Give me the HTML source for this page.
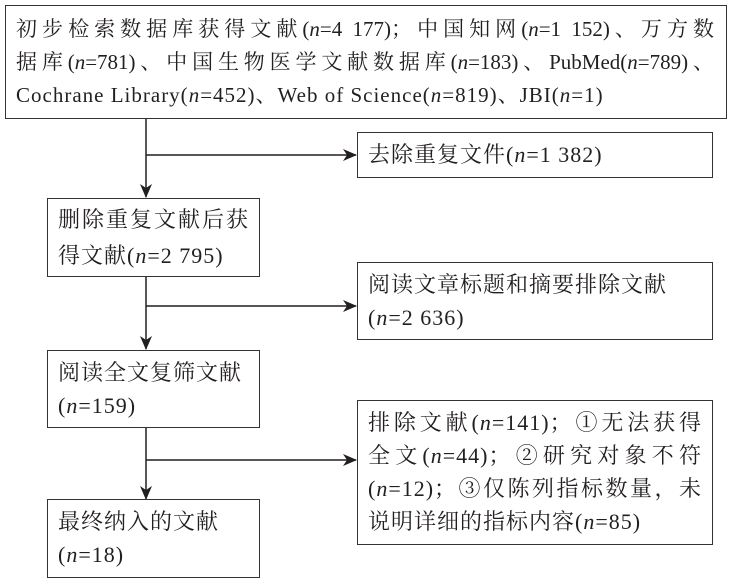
<!DOCTYPE html>
<html><head><meta charset="utf-8"><style>
body{margin:0;width:730px;height:587px;background:#fff;position:relative;overflow:hidden;font-family:"Liberation Serif","Noto Serif CJK SC",serif;color:#231f20}
.b{position:absolute;border:1.5px solid #333;box-sizing:border-box;font-size:22px;line-height:33px;letter-spacing:1px}
.l{white-space:nowrap;text-align-last:justify;text-align:justify}
.n{white-space:nowrap}
i{font-style:italic}
svg{position:absolute;left:0;top:0}
</style></head><body>
<svg width="730" height="587">
<defs><marker id="a" markerWidth="14" markerHeight="12" refX="13" refY="6" orient="auto" markerUnits="userSpaceOnUse"><path d="M0,0 L14,6 L0,12 L4,6z" fill="#231f20"/></marker></defs>
<g stroke="#231f20" stroke-width="1.5" fill="none">
<line x1="146" y1="119" x2="146" y2="197" marker-end="url(#a)"/>
<line x1="146" y1="155" x2="356" y2="155" marker-end="url(#a)"/>
<line x1="146" y1="277" x2="146" y2="349" marker-end="url(#a)"/>
<line x1="146" y1="306" x2="356" y2="306" marker-end="url(#a)"/>
<line x1="146" y1="428" x2="146" y2="499" marker-end="url(#a)"/>
<line x1="146" y1="460" x2="356" y2="460" marker-end="url(#a)"/>
</g></svg>
<div class="b" style="left:5px;top:5px;width:722px;height:114px;padding:7px 12px 0 10px;font-size:21px;letter-spacing:0">
<div class="l">初步检索数据库获得文献(<i>n</i>=4 177)；中国知网(<i>n</i>=1 152)、万方数</div>
<div class="l">据库(<i>n</i>=781)、中国生物医学文献数据库(<i>n</i>=183)、PubMed(<i>n</i>=789)、</div>
<div class="n" style="letter-spacing:1px">Cochrane Library(<i>n</i>=452)、Web of Science(<i>n</i>=819)、JBI(<i>n</i>=1)</div>
</div>
<div class="b" style="left:357px;top:132px;width:356px;height:46px;padding:5px 0 0 10px"><div class="n">去除重复文件(<i>n</i>=1 382)</div></div>
<div class="b" style="left:47px;top:198px;width:213px;height:79px;padding:3px 10px 0 10px;line-height:36px">
<div class="l">删除重复文献后获</div><div class="n">得文献(<i>n</i>=2 795)</div></div>
<div class="b" style="left:357px;top:262px;width:356px;height:78px;padding:5px 10px 0 10px">
<div class="n">阅读文章标题和摘要排除文献</div><div class="n">(<i>n</i>=2 636)</div></div>
<div class="b" style="left:47px;top:350px;width:213px;height:78px;padding:5px 10px 0 10px">
<div class="n">阅读全文复筛文献</div><div class="n">(<i>n</i>=159)</div></div>
<div class="b" style="left:357px;top:400px;width:356px;height:145px;padding:5px 10px 0 10px">
<div class="l">排除文献(<i>n</i>=141)；①无法获得</div>
<div class="l">全文(<i>n</i>=44)；②研究对象不符</div>
<div class="l">(<i>n</i>=12)；③仅陈列指标数量，未</div>
<div class="n">说明详细的指标内容(<i>n</i>=85)</div></div>
<div class="b" style="left:47px;top:499px;width:213px;height:79px;padding:5px 10px 0 10px">
<div class="n">最终纳入的文献</div><div class="n">(<i>n</i>=18)</div></div>
</body></html>
